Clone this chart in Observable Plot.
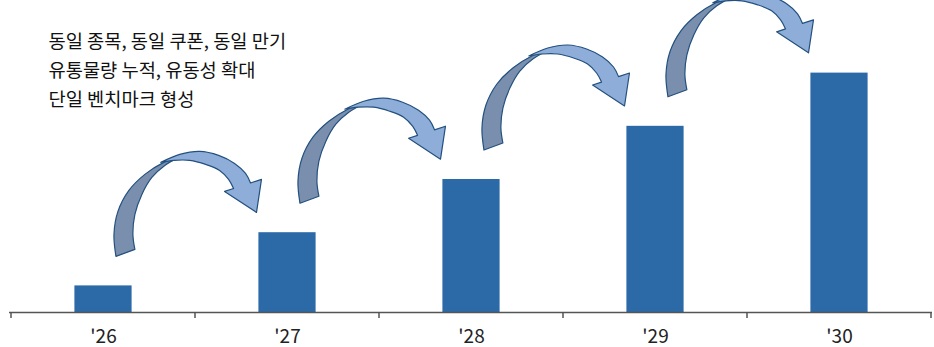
<!DOCTYPE html>
<html><head><meta charset="utf-8">
<script src="https://cdn.jsdelivr.net/npm/d3@7"></script>
<script src="https://cdn.jsdelivr.net/npm/@observablehq/plot@0.6"></script>
<style>
html,body{margin:0;padding:0;background:#fff;}
#chart{width:934px;height:347px;}
</style>
</head><body><div id="chart"></div>
<script>
// ---- data ----
const years = ["'26", "'27", "'28", "'29", "'30"];
const volumes = [1, 3, 5, 7, 9];
const noteLines = ["동일 종목, 동일 쿠폰, 동일 만기", "유통물량 누적, 유동성 확대", "단일 벤치마크 형성"];

const data = years.map((year, i) => ({year, volume: volumes[i]}));

// curved-arrow outline, as offsets from a bar's top-centre (drawn for a 184.6px band)
const backOuter = [[13,-29],[11,-51],[15,-74],[26,-95],[42,-111],[61,-123],[80,-130]];
const backInner = [[80,-130],[62,-120],[49,-108],[39,-91],[32,-71],[30,-51],[32,-36]];
const frontUpper = [[58,-123],[77,-131],[97,-134],[116,-130],[132,-122],[143,-112],[148,-102.4]];
const frontHead = [[159,-106],[154,-73],[122,-94],[131,-96.9]];
const frontLower = [[131,-96.9],[126,-106],[117,-115],[103,-121],[87,-125],[71,-125],[58,-123]];

const FONT = "'Noto Sans CJK KR','Noto Sans',sans-serif";

function curveSeg(pts, first) {
  const s = d3.line().curve(d3.curveCatmullRom)(pts);
  return first ? s : "L" + s.slice(1);
}

function arrowsMark(index, scales, values, dimensions) {
  const x = scales.x, y = scales.y;
  const bw = x.bandwidth ? x.bandwidth() : (dimensions.width - dimensions.marginLeft - dimensions.marginRight) / years.length;
  const k = bw / 184.6;
  const g = d3.create("svg:g");
  for (let i = 0; i < years.length - 1; i++) {
    const cx = x(years[i]) + bw / 2;
    const ty = y(volumes[i]);
    const tr = p => [cx + p[0] * k, ty + p[1]];
    const back = curveSeg(backOuter.map(tr), true) + curveSeg(backInner.map(tr), false) + "Z";
    const front = curveSeg(frontUpper.map(tr), true) +
      frontHead.map(tr).map(p => "L" + p[0] + "," + p[1]).join("") +
      curveSeg(frontLower.map(tr), false) + "Z";
    g.append("path").attr("d", back).attr("fill", "#7a8fae").attr("stroke", "#23507f").attr("stroke-width", 1.2).attr("stroke-linejoin", "round");
    g.append("path").attr("d", front).attr("fill", "#8eaed9").attr("stroke", "#23507f").attr("stroke-width", 1.2).attr("stroke-linejoin", "round");
  }
  return g.node();
}

function boundaryTicks(index, scales, values, dimensions) {
  const x = scales.x, y = scales.y;
  const bw = x.bandwidth ? x.bandwidth() : (dimensions.width - dimensions.marginLeft - dimensions.marginRight) / years.length;
  const y0 = y(0);
  const xs = years.map(d => x(d)).concat([x(years[years.length - 1]) + bw]);
  const g = d3.create("svg:g").attr("stroke", "#555").attr("stroke-width", 1.5);
  xs.forEach(v => g.append("line").attr("x1", v).attr("x2", v).attr("y1", y0).attr("y2", y0 + 6));
  return g.node();
}

const chart = Plot.plot({
  width: 934,
  height: 347,
  marginLeft: 9,
  marginRight: 2,
  marginTop: 0,
  marginBottom: 35,
  style: {fontFamily: FONT, background: "#fff", overflow: "visible"},
  x: {domain: years, type: "band", padding: 0, label: null},
  y: {domain: [0, 11.73], axis: null},
  marks: [
    Plot.barY(data, {x: "year", y: "volume", fill: "#2b6aa7", insetLeft: 63.4, insetRight: 63.4}),
    Plot.ruleY([0], {stroke: "#555", strokeWidth: 1.5}),
    boundaryTicks,
    Plot.axisX({tickSize: 0, tickPadding: 17, fontSize: 19, color: "#222", label: null}),
    arrowsMark,
    Plot.text([noteLines.join("\n")], {
      frameAnchor: "top-left", textAnchor: "start", lineAnchor: "top",
      dx: 39, dy: 27, fontSize: 18.7, lineHeight: 1.55, fill: "#111"
    })
  ]
});
document.getElementById("chart").append(chart);
</script>
</body></html>
